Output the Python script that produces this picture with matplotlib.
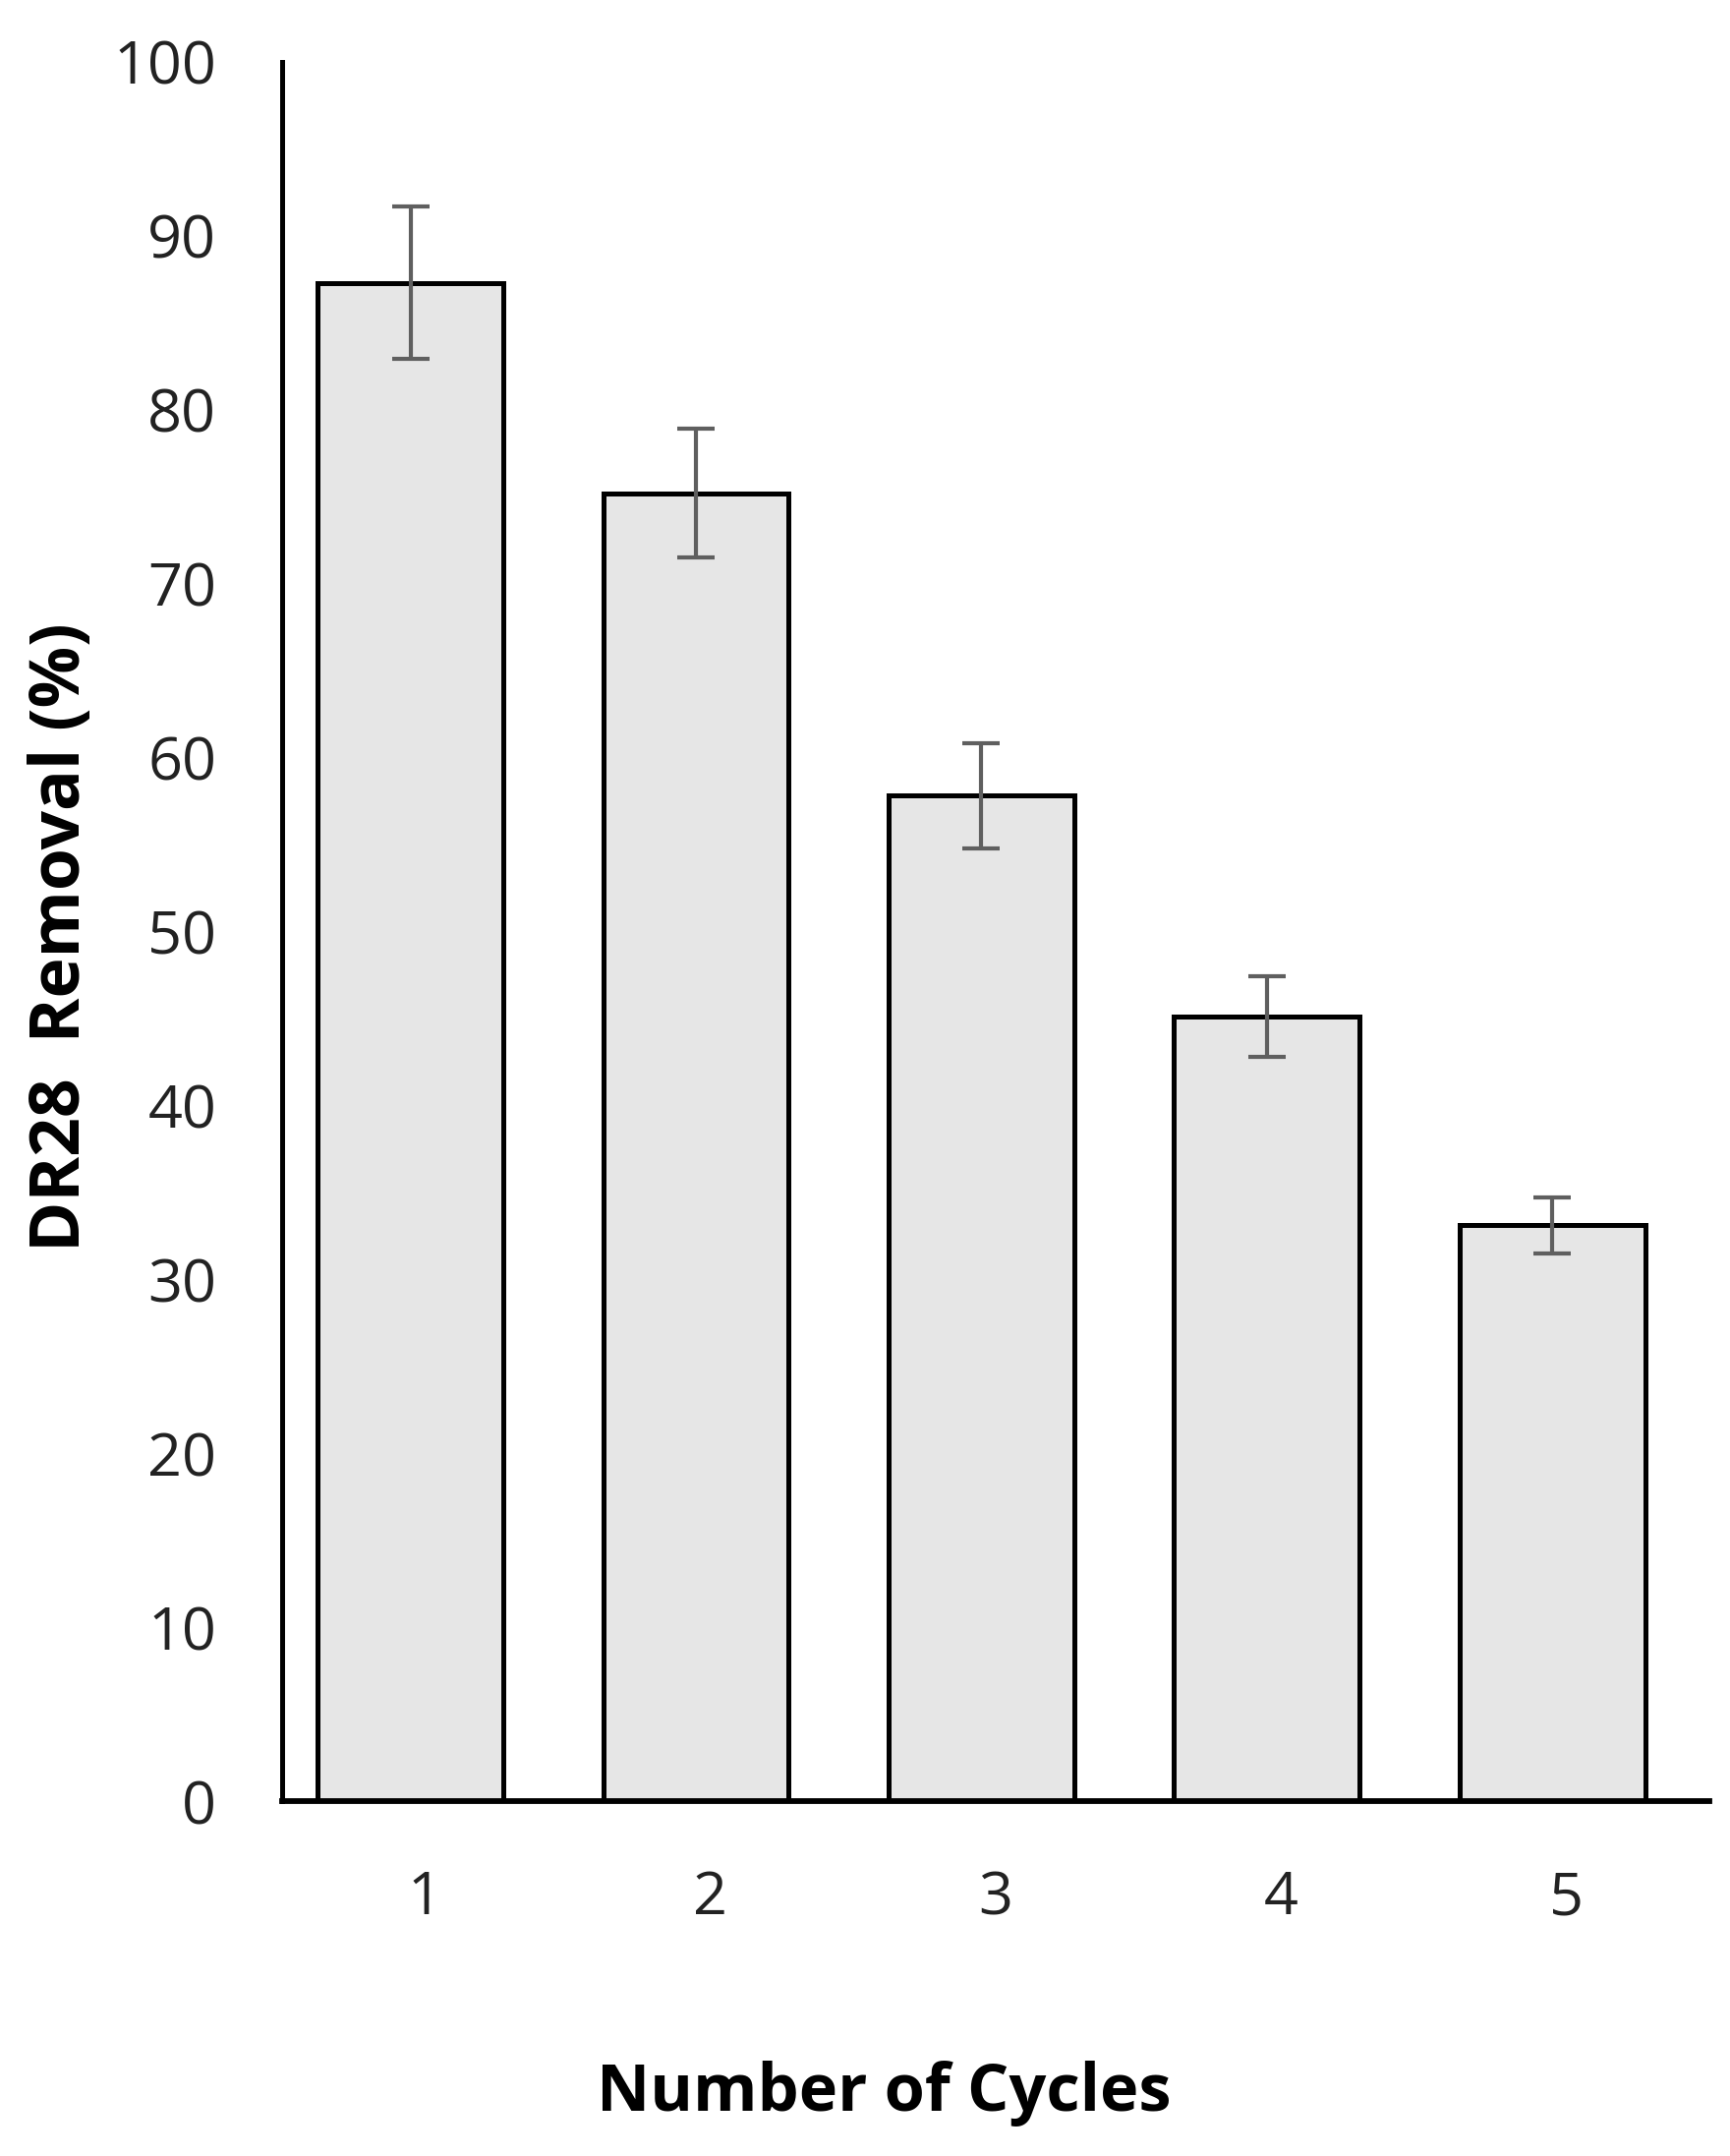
import matplotlib
matplotlib.use("Agg")
import matplotlib.pyplot as plt
import numpy as np

cycles = ["1", "2", "3", "4", "5"]
removal = [87.3, 75.2, 57.8, 45.1, 33.1]
errors = [4.4, 3.7, 3.0, 2.3, 1.6]
yticks = [0, 10, 20, 30, 40, 50, 60, 70, 80, 90, 100]

plt.rcParams['font.family'] = ['Open Sans', 'DejaVu Sans']

fig = plt.figure(figsize=(17.6, 21.93), dpi=100)
ax = fig.add_axes([0.163, 0.1646, 0.825, 0.8067])

x = np.arange(len(cycles))
ax.bar(x - 0.05, removal, width=0.65, color='#e6e6e6', edgecolor='black',
       linewidth=3.6, zorder=2)
ax.errorbar(x - 0.05, removal, yerr=errors, fmt='none', ecolor='#5f5f5f',
            elinewidth=3.0, capsize=14, capthick=3.0, zorder=3)

ax.set_xlim(-0.5, len(cycles) - 0.5)
ax.set_ylim(0, 100)
ax.set_yticks(yticks)
ax.set_yticklabels([str(v) for v in yticks])
ax.set_xticks(x)
ax.set_xticklabels(cycles)

ax.spines['top'].set_visible(False)
ax.spines['right'].set_visible(False)
ax.spines['left'].set_linewidth(3.6)
ax.spines['bottom'].set_linewidth(4.2)
ax.tick_params(axis='both', length=0, labelsize=44, colors='#222222')
ax.tick_params(axis='y', pad=48)
ax.tick_params(axis='x', pad=50)

ax.set_xlabel("Number of Cycles", fontsize=48, fontweight='bold', va='center')
ax.xaxis.set_label_coords(0.422, -0.168)
ax.set_ylabel("DR28  Removal (%)", fontsize=50, fontweight='bold', va='center')
ax.yaxis.set_label_coords(-0.154, 0.497)

fig.savefig("out.png", dpi=100)
